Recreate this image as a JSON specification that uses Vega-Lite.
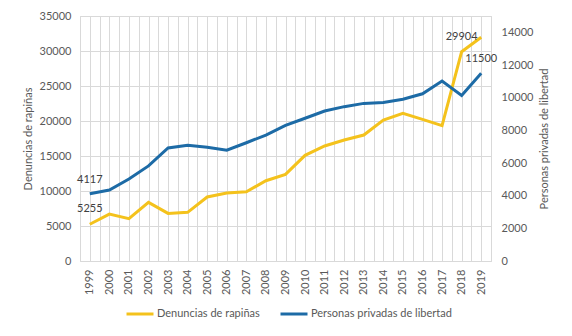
{
  "$schema": "https://vega.github.io/schema/vega-lite/v6.json",
  "autosize": {"type": "none"},
  "width": 411,
  "height": 245,
  "padding": {"left": 80, "top": 16, "right": 81, "bottom": 75},
  "background": "white",
  "config": {
    "font": "Lato",
    "view": {"stroke": "#d9d9d9"},
    "axis": {"labelColor": "#595959", "titleColor": "#595959", "labelFontSize": 11, "titleFontSize": 11, "titleFontWeight": "normal", "gridColor": "#d9d9d9", "domain": false, "ticks": false, "labelFont": "Lato", "titleFont": "Lato"},
    "legend": {"labelColor": "#595959", "labelFontSize": 11, "labelFont": "Lato"}
  },
  "data": {
    "values": [
      {"year": 1999, "rapinas": 5255, "personas": 4117},
      {"year": 2000, "rapinas": 6700, "personas": 4350},
      {"year": 2001, "rapinas": 6050, "personas": 5020},
      {"year": 2002, "rapinas": 8380, "personas": 5820},
      {"year": 2003, "rapinas": 6800, "personas": 6920},
      {"year": 2004, "rapinas": 6950, "personas": 7080},
      {"year": 2005, "rapinas": 9140, "personas": 6960},
      {"year": 2006, "rapinas": 9710, "personas": 6780},
      {"year": 2007, "rapinas": 9900, "personas": 7240},
      {"year": 2008, "rapinas": 11470, "personas": 7710},
      {"year": 2009, "rapinas": 12380, "personas": 8300},
      {"year": 2010, "rapinas": 15100, "personas": 8740},
      {"year": 2011, "rapinas": 16430, "personas": 9180},
      {"year": 2012, "rapinas": 17290, "personas": 9450},
      {"year": 2013, "rapinas": 18000, "personas": 9650},
      {"year": 2014, "rapinas": 20140, "personas": 9710},
      {"year": 2015, "rapinas": 21100, "personas": 9900},
      {"year": 2016, "rapinas": 20240, "personas": 10240},
      {"year": 2017, "rapinas": 19330, "personas": 11020},
      {"year": 2018, "rapinas": 29904, "personas": 10140},
      {"year": 2019, "rapinas": 31960, "personas": 11500}
    ]
  },
  "encoding": {
    "x": {
      "field": "year", "type": "quantitative",
      "scale": {"domain": [1998.5, 2019.5], "nice": false, "zero": false},
      "axis": {
        "title": null, "grid": true, "labelAngle": 270, "labelPadding": 8,
        "values": [1998.5, 1999, 1999.5, 2000, 2000.5, 2001, 2001.5, 2002, 2002.5, 2003, 2003.5, 2004, 2004.5, 2005, 2005.5, 2006, 2006.5, 2007, 2007.5, 2008, 2008.5, 2009, 2009.5, 2010, 2010.5, 2011, 2011.5, 2012, 2012.5, 2013, 2013.5, 2014, 2014.5, 2015, 2015.5, 2016, 2016.5, 2017, 2017.5, 2018, 2018.5, 2019, 2019.5],
        "labelExpr": "datum.value % 1 == 0 ? '' + datum.value : ''",
        "labelFlush": false, "labelOverlap": false
      }
    }
  },
  "layer": [
    {
      "encoding": {
        "y": {
          "field": "rapinas", "type": "quantitative",
          "scale": {"domain": [0, 35000], "nice": false},
          "axis": {"title": "Denuncias de rapiñas", "orient": "left", "values": [0, 5000, 10000, 15000, 20000, 25000, 30000, 35000], "format": "d", "grid": true, "labelPadding": 9, "titlePadding": 6}
        }
      },
      "layer": [
        {
          "mark": {"type": "line", "strokeWidth": 3},
          "encoding": {
            "color": {"datum": "Denuncias de rapiñas", "scale": {"domain": ["Denuncias de rapiñas", "Personas privadas de libertad"], "range": ["#F4C21C", "#1D6BA6"]}, "legend": {"title": null, "orient": "none", "legendX": 45, "legendY": 283, "direction": "horizontal", "symbolType": "stroke", "symbolSize": 729, "symbolStrokeWidth": 3, "labelOffset": 2, "columnPadding": 14}}
          }
        },
        {
          "transform": [{"filter": "datum.year == 1999 || datum.year == 2018"}],
          "mark": {"type": "text", "dy": -15, "fontSize": 11, "color": "#404040", "font": "Lato"},
          "encoding": {"text": {"field": "rapinas", "type": "quantitative", "format": "d"}}
        }
      ]
    },
    {
      "encoding": {
        "y": {
          "field": "personas", "type": "quantitative",
          "scale": {"domain": [0, 15000], "nice": false},
          "axis": {"title": "Personas privadas de libertad", "orient": "right", "titleAngle": 270, "values": [0, 2000, 4000, 6000, 8000, 10000, 12000, 14000], "format": "d", "grid": false, "labelPadding": 10, "titlePadding": 17}
        }
      },
      "layer": [
        {
          "mark": {"type": "line", "strokeWidth": 3},
          "encoding": {
            "color": {"datum": "Personas privadas de libertad"}
          }
        },
        {
          "transform": [{"filter": "datum.year == 1999 || datum.year == 2019"}],
          "mark": {"type": "text", "dy": -14, "fontSize": 11, "color": "#404040", "font": "Lato"},
          "encoding": {"text": {"field": "personas", "type": "quantitative", "format": "d"}}
        }
      ]
    }
  ],
  "resolve": {"scale": {"y": "independent"}}
}
